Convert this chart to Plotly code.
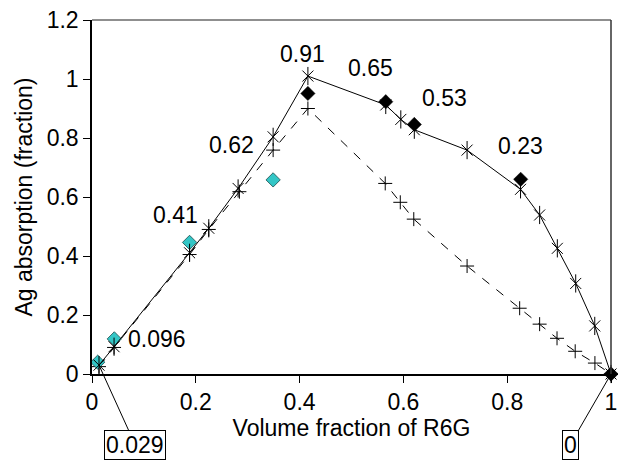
import plotly.graph_objects as go

# --- data ---
solid_x = [0.0135, 0.0425, 0.188, 0.225, 0.2815, 0.349, 0.416, 0.566, 0.595, 0.621, 0.7227, 0.8257, 0.8625, 0.8966, 0.932, 0.9687, 1.0]
solid_y = [0.03, 0.0925, 0.411, 0.494, 0.629, 0.804, 1.01, 0.912, 0.863, 0.828, 0.759, 0.626, 0.539, 0.426, 0.307, 0.163, 0.0]

dash_x = [0.0135, 0.0425, 0.188, 0.225, 0.284, 0.349, 0.416, 0.565, 0.594, 0.62, 0.7227, 0.824, 0.8625, 0.896, 0.931, 0.969, 1.0]
dash_y = [0.025, 0.09, 0.405, 0.49, 0.618, 0.759, 0.90, 0.646, 0.582, 0.525, 0.366, 0.223, 0.169, 0.121, 0.077, 0.037, 0.0]

cyan_x = [0.011, 0.043, 0.188, 0.349]
cyan_y = [0.04, 0.119, 0.446, 0.658]

black_x = [0.416, 0.566, 0.621, 0.826, 1.0]
black_y = [0.951, 0.923, 0.846, 0.66, 0.0]

label_text = ["0.91", "0.65", "0.53", "0.23", "0.62", "0.41", "0.096"]
boxed_text = ["0.029", "0"]
boxed_target_x = [solid_x[0], solid_x[-1]]
boxed_target_y = [solid_y[0], solid_y[-1]]

x_ticks = [0, 0.2, 0.4, 0.6, 0.8, 1]
y_ticks = [0, 0.2, 0.4, 0.6, 0.8, 1, 1.2]

# --- layout helpers (pixel -> data for text placement) ---
L, R, T, B = 92, 7, 20, 86
W, H = 618, 460
pw, ph = W - L - R, H - T - B
def px2x(px):
    return (px - L) / pw
def py2y(py):
    return 1.2 * (H - B - py) / ph

label_px = [(302.5, 54), (370, 68), (444.3, 98), (520, 145.5), (231.7, 145), (175.5, 214.5), (156.8, 339)]
boxed_px = [(135.3, 445), (570, 445)]

FONT = "Liberation Sans, Arial, sans-serif"
FS = 23

fig = go.Figure()

fig.add_trace(go.Scatter(x=dash_x, y=dash_y, mode="lines+markers",
                         line=dict(color="black", width=1, dash="dash"),
                         marker=dict(symbol="cross-thin-open", size=10, color="black",
                                     line=dict(color="black", width=1)),
                         cliponaxis=False, showlegend=False))
fig.add_trace(go.Scatter(x=cyan_x, y=cyan_y, mode="markers",
                         marker=dict(symbol="diamond", size=11, color="#33C6C6",
                                     line=dict(color="#1a4a4a", width=0.8)),
                         cliponaxis=False, showlegend=False))
fig.add_trace(go.Scatter(x=solid_x, y=solid_y, mode="lines+markers",
                         line=dict(color="black", width=1),
                         marker=dict(symbol="x-thin-open", size=11, color="black",
                                     line=dict(color="black", width=1)),
                         cliponaxis=False, showlegend=False))
fig.add_trace(go.Scatter(x=solid_x, y=solid_y, mode="markers",
                         marker=dict(symbol="line-ns-open", size=13, color="black",
                                     line=dict(color="black", width=1)),
                         cliponaxis=False, showlegend=False))
fig.add_trace(go.Scatter(x=black_x, y=black_y, mode="markers",
                         marker=dict(symbol="diamond", size=11, color="black",
                                     line=dict(color="black", width=0.5)),
                         cliponaxis=False, showlegend=False))

annotations = []
for t, (px, py) in zip(label_text, label_px):
    annotations.append(dict(x=px2x(px), y=py2y(py), xref="x", yref="y", text=t,
                            showarrow=False, font=dict(size=FS, color="black", family=FONT),
                            xanchor="center", yanchor="middle"))
for t, (px, py), tx, ty in zip(boxed_text, boxed_px, boxed_target_x, boxed_target_y):
    tpx = L + tx * pw
    tpy = H - B - ty / 1.2 * ph
    annotations.append(dict(x=tx, y=ty, xref="x", yref="y", text=t,
                            showarrow=True, arrowhead=0, arrowwidth=1, arrowcolor="black",
                            ax=px - tpx, ay=py - tpy, axref="pixel", ayref="pixel",
                            bordercolor="black", borderwidth=1, borderpad=1, bgcolor="white",
                            font=dict(size=FS, color="black", family=FONT)))

fig.update_layout(
    width=W, height=H,
    margin=dict(l=L, r=R, t=T, b=B, autoexpand=False),
    paper_bgcolor="white", plot_bgcolor="white",
    font=dict(family=FONT, size=FS, color="black"),
    annotations=annotations,
    shapes=[
        dict(type="line", xref="paper", yref="paper", x0=0, x1=1, y0=1, y1=1,
             line=dict(color="#6a6a6a", width=1.5)),
        dict(type="line", xref="paper", yref="paper", x0=1, x1=1, y0=0, y1=1,
             line=dict(color="#333333", width=1.5)),
    ],
)
fig.update_xaxes(range=[0, 1], tickvals=x_ticks, ticktext=[f"{v:g}" for v in x_ticks],
                 showgrid=False, zeroline=False, showline=True, linecolor="black", linewidth=1.5,
                 ticks="outside", ticklen=7, tickwidth=1, tickcolor="black",
                 tickfont=dict(size=FS, family=FONT, color="black"),
                 title=dict(text="Volume fraction of R6G", font=dict(size=FS, family=FONT, color="black"),
                            standoff=2))
fig.update_yaxes(range=[0, 1.2], tickvals=y_ticks, ticktext=[f"{v:g}" for v in y_ticks],
                 showgrid=False, zeroline=False, showline=True, linecolor="black", linewidth=1.5,
                 ticks="outside", ticklen=7, tickwidth=1, tickcolor="black",
                 tickfont=dict(size=FS, family=FONT, color="black"),
                 title=dict(text="Ag absorption (fraction)", font=dict(size=FS, family=FONT, color="black"),
                            standoff=8))

fig.write_html("out.html")
